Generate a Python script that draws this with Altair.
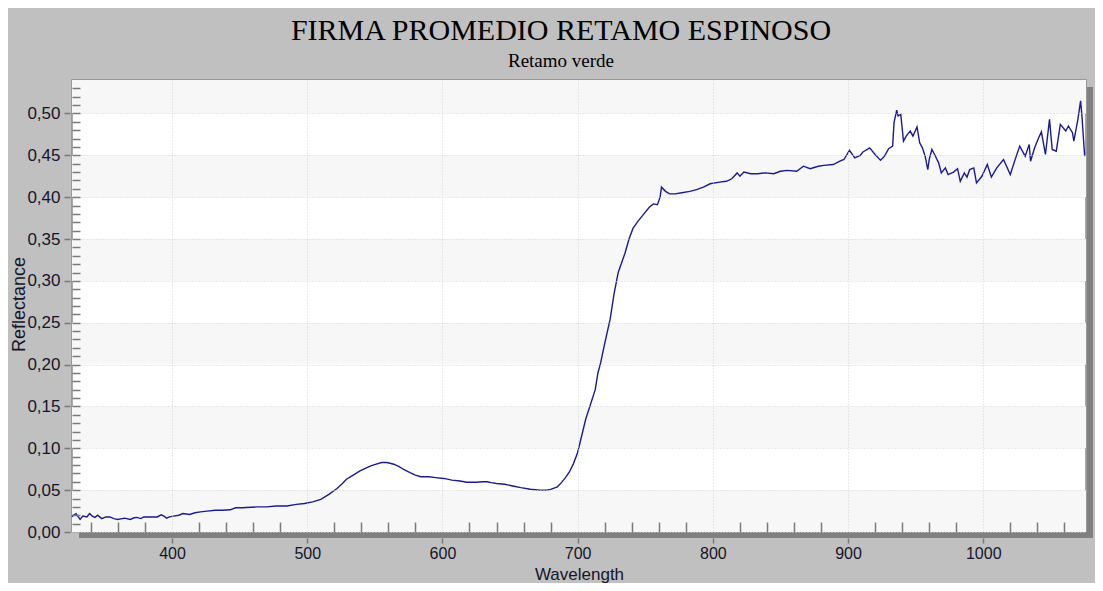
import altair as alt
import pandas as pd

wavelength = [
    326, 327, 329, 332, 334, 337, 339, 341, 343, 345,
    348, 351, 354, 357, 360, 363, 365, 369, 372, 374,
    377, 379, 383, 386, 389, 392, 394, 396, 398, 401,
    405, 408, 413, 417, 421, 426, 432, 437, 443, 447,
    452, 458, 463, 470, 477, 485, 492, 498, 504, 510,
    516, 522, 526, 529, 534, 539, 543, 547, 551, 555,
    559, 564, 568, 571, 576, 580, 584, 590, 595, 601,
    607, 613, 618, 625, 630, 633, 636, 640, 646, 652,
    658, 665, 672, 677, 680, 685, 688, 691, 694, 697,
    700, 703, 706, 709, 713, 715, 717, 720, 724, 727,
    730, 735, 738, 741, 745, 749, 753, 756, 759, 761,
    762, 765, 768, 772, 776, 783, 788, 793, 798, 805,
    810, 814, 818, 820, 823, 828, 833, 839, 845, 850,
    855, 862, 867, 872, 878, 882, 889, 894, 897, 901,
    905, 909, 911, 916, 920, 924, 927, 930, 933, 934,
    936, 937, 939, 941, 943, 946, 948, 951, 953, 955,
    957, 959, 960, 962, 964, 967, 969, 972, 974, 978,
    981, 983, 986, 988, 990, 993, 995, 999, 1003, 1006,
    1010, 1015, 1020, 1024, 1027, 1031, 1034, 1035, 1038, 1041,
    1043, 1046, 1049, 1051, 1054, 1057, 1061, 1063, 1066, 1067,
    1070, 1072, 1073, 1075,
]

reflectance = [
    0.018, 0.020, 0.022, 0.015, 0.019, 0.018, 0.022, 0.019, 0.0175, 0.020,
    0.016, 0.018, 0.018, 0.016, 0.015, 0.016, 0.0165, 0.015, 0.017, 0.0175,
    0.016, 0.018, 0.018, 0.018, 0.018, 0.0205, 0.019, 0.0165, 0.018, 0.019,
    0.020, 0.022, 0.021, 0.023, 0.024, 0.025, 0.026, 0.026, 0.0265, 0.029,
    0.029, 0.0295, 0.030, 0.030, 0.031, 0.031, 0.033, 0.034, 0.036, 0.039,
    0.045, 0.052, 0.058, 0.063, 0.068, 0.073, 0.076, 0.079, 0.081, 0.083,
    0.083, 0.081, 0.078, 0.075, 0.071, 0.068, 0.066, 0.066, 0.065, 0.064,
    0.062, 0.061, 0.0595, 0.0595, 0.060, 0.060, 0.059, 0.058, 0.057, 0.055,
    0.053, 0.051, 0.050, 0.050, 0.051, 0.054, 0.059, 0.065, 0.072, 0.082,
    0.095, 0.115, 0.135, 0.150, 0.170, 0.190, 0.202, 0.225, 0.254, 0.285,
    0.310, 0.333, 0.350, 0.363, 0.372, 0.380, 0.388, 0.392, 0.391, 0.400,
    0.412, 0.407, 0.404, 0.404, 0.405, 0.407, 0.409, 0.412, 0.416, 0.418,
    0.419, 0.422, 0.429, 0.425, 0.430, 0.428, 0.428, 0.429, 0.428, 0.431,
    0.432, 0.431, 0.437, 0.434, 0.437, 0.438, 0.439, 0.443, 0.445, 0.456,
    0.447, 0.450, 0.454, 0.459, 0.451, 0.444, 0.449, 0.458, 0.461, 0.489,
    0.504, 0.497, 0.499, 0.467, 0.473, 0.479, 0.473, 0.484, 0.465, 0.459,
    0.449, 0.433, 0.445, 0.457, 0.451, 0.441, 0.429, 0.435, 0.427, 0.430,
    0.434, 0.419, 0.429, 0.424, 0.433, 0.435, 0.417, 0.425, 0.439, 0.424,
    0.435, 0.445, 0.427, 0.447, 0.461, 0.449, 0.463, 0.443, 0.459, 0.471,
    0.478, 0.451, 0.493, 0.457, 0.455, 0.487, 0.479, 0.485, 0.477, 0.467,
    0.493, 0.515, 0.497, 0.449,
]

x_major = [400, 500, 600, 700, 800, 900, 1000]
x_minor = [340, 360, 380, 420, 440, 460, 480, 520, 540, 560, 580,
           620, 640, 660, 680, 720, 740, 760, 780, 820, 840, 860, 880,
           920, 940, 960, 980, 1020, 1040, 1060]
y_major = [0.00, 0.05, 0.10, 0.15, 0.20, 0.25, 0.30, 0.35, 0.40, 0.45, 0.50]
y_minor = [0.01, 0.02, 0.03, 0.04, 0.05, 0.06, 0.07, 0.08, 0.09, 0.10,
           0.11, 0.12, 0.13, 0.14, 0.15, 0.16, 0.17, 0.18, 0.19, 0.20,
           0.21, 0.22, 0.23, 0.24, 0.25, 0.26, 0.27, 0.28, 0.29, 0.30,
           0.31, 0.32, 0.33, 0.34, 0.35, 0.36, 0.37, 0.38, 0.39, 0.40,
           0.41, 0.42, 0.43, 0.44, 0.45, 0.46, 0.47, 0.48, 0.49, 0.50,
           0.51, 0.52, 0.53]
band_lo = [0.00, 0.10, 0.20, 0.30, 0.40, 0.50]
band_hi = [0.05, 0.15, 0.25, 0.35, 0.45, 0.55]

W, H = 1014, 452
SANS = "Liberation Sans"
SERIF = "Liberation Serif"
TICK = "#7a7a7a"
GRID = "#d4d4d4"
TXT = "#15152a"

xscale = alt.Scale(domain=[326, 1076], nice=False, zero=False)
yscale = alt.Scale(domain=[0, 0.54], nice=False, zero=False)

df = pd.DataFrame({"Wavelength": wavelength, "Reflectance": reflectance})
bands = pd.DataFrame({"lo": band_lo, "hi": band_hi})
one = pd.DataFrame({"k": [0]})

band_layer = alt.Chart(bands).mark_rect(color="#f7f7f7", clip=True).encode(
    x=alt.value(0), x2=alt.value(W),
    y=alt.Y("lo:Q", scale=yscale, axis=None), y2="hi:Q",
)

shadow_right = alt.Chart(one).mark_rect(color="#808080").encode(
    x=alt.value(W + 1), x2=alt.value(W + 7), y=alt.value(7), y2=alt.value(H + 6)
)
shadow_bottom = alt.Chart(one).mark_rect(color="#808080").encode(
    x=alt.value(7), x2=alt.value(W + 7), y=alt.value(H), y2=alt.value(H + 6)
)

line = alt.Chart(df).mark_line(color="#1a1a94", strokeWidth=1.4).encode(
    x=alt.X("Wavelength:Q", scale=xscale, axis=alt.Axis(
        values=x_major, format="d", orient="bottom", offset=6, domain=False,
        tickSize=5, tickColor=TICK, tickWidth=1.5,
        labelFont=SANS, labelFontSize=16, labelColor=TXT, labelPadding=2,
        title="Wavelength", titleFont=SANS, titleFontSize=17, titleFontWeight="normal",
        titleColor=TXT, titleX=W / 2, titleY=41, titleBaseline="alphabetic",
        grid=True, gridColor=GRID, gridDash=[1, 2], gridWidth=1, zindex=1)),
    y=alt.Y("Reflectance:Q", scale=yscale, axis=alt.Axis(
        values=y_major, labelExpr="replace(format(datum.value, '.2f'), '.', ',')",
        orient="left", offset=2, domain=False,
        tickSize=6, tickColor=TICK, tickWidth=1.5,
        labelFont=SANS, labelFontSize=17, labelColor=TXT, labelPadding=4,
        title="Reflectance", titleFont=SANS, titleFontSize=18, titleFontWeight="normal",
        titleColor=TXT, titleX=-46, titleY=224, titleAngle=270, titleBaseline="alphabetic",
        grid=True, gridColor=GRID, gridDash=[1, 2], gridWidth=1, zindex=1)),
)

minor_x = alt.Chart(df).mark_point(opacity=0).encode(
    x=alt.X("Wavelength:Q", scale=xscale, axis=alt.Axis(
        values=x_minor, orient="bottom", offset=-10, domain=False, labels=False,
        grid=False, tickSize=10, tickColor=TICK, tickWidth=1.5, title="", zindex=1)),
    y=alt.Y("Reflectance:Q", scale=yscale, axis=None),
)

minor_y = alt.Chart(df).mark_point(opacity=0).encode(
    x=alt.X("Wavelength:Q", scale=xscale, axis=None),
    y=alt.Y("Reflectance:Q", scale=yscale, axis=alt.Axis(
        values=y_minor, orient="left", offset=-8, domain=False, labels=False,
        grid=False, tickSize=8, tickColor=TICK, tickWidth=1.5, title="", zindex=1)),
)

chart = alt.layer(
    shadow_right, shadow_bottom, band_layer, line, minor_x, minor_y
).resolve_axis(x="independent", y="independent").properties(
    width=W, height=H,
    autosize=alt.AutoSizeParams(type="none"),
    padding={"left": 64, "top": 72, "right": 9, "bottom": 51},
    background="#c0c0c0",
    title=alt.TitleParams(
        text="FIRMA PROMEDIO RETAMO ESPINOSO", subtitle="Retamo verde",
        font=SERIF, fontSize=30, fontWeight="normal", color="black",
        subtitleFont=SERIF, subtitleFontSize=19, subtitleColor="black",
        subtitlePadding=6, anchor="middle", frame="group", dx=-18, offset=9),
).configure_view(fill="white", stroke="#8c8c8c", strokeWidth=1.5)

chart.save("out.html", embed_options={"renderer": "svg", "actions": False})
